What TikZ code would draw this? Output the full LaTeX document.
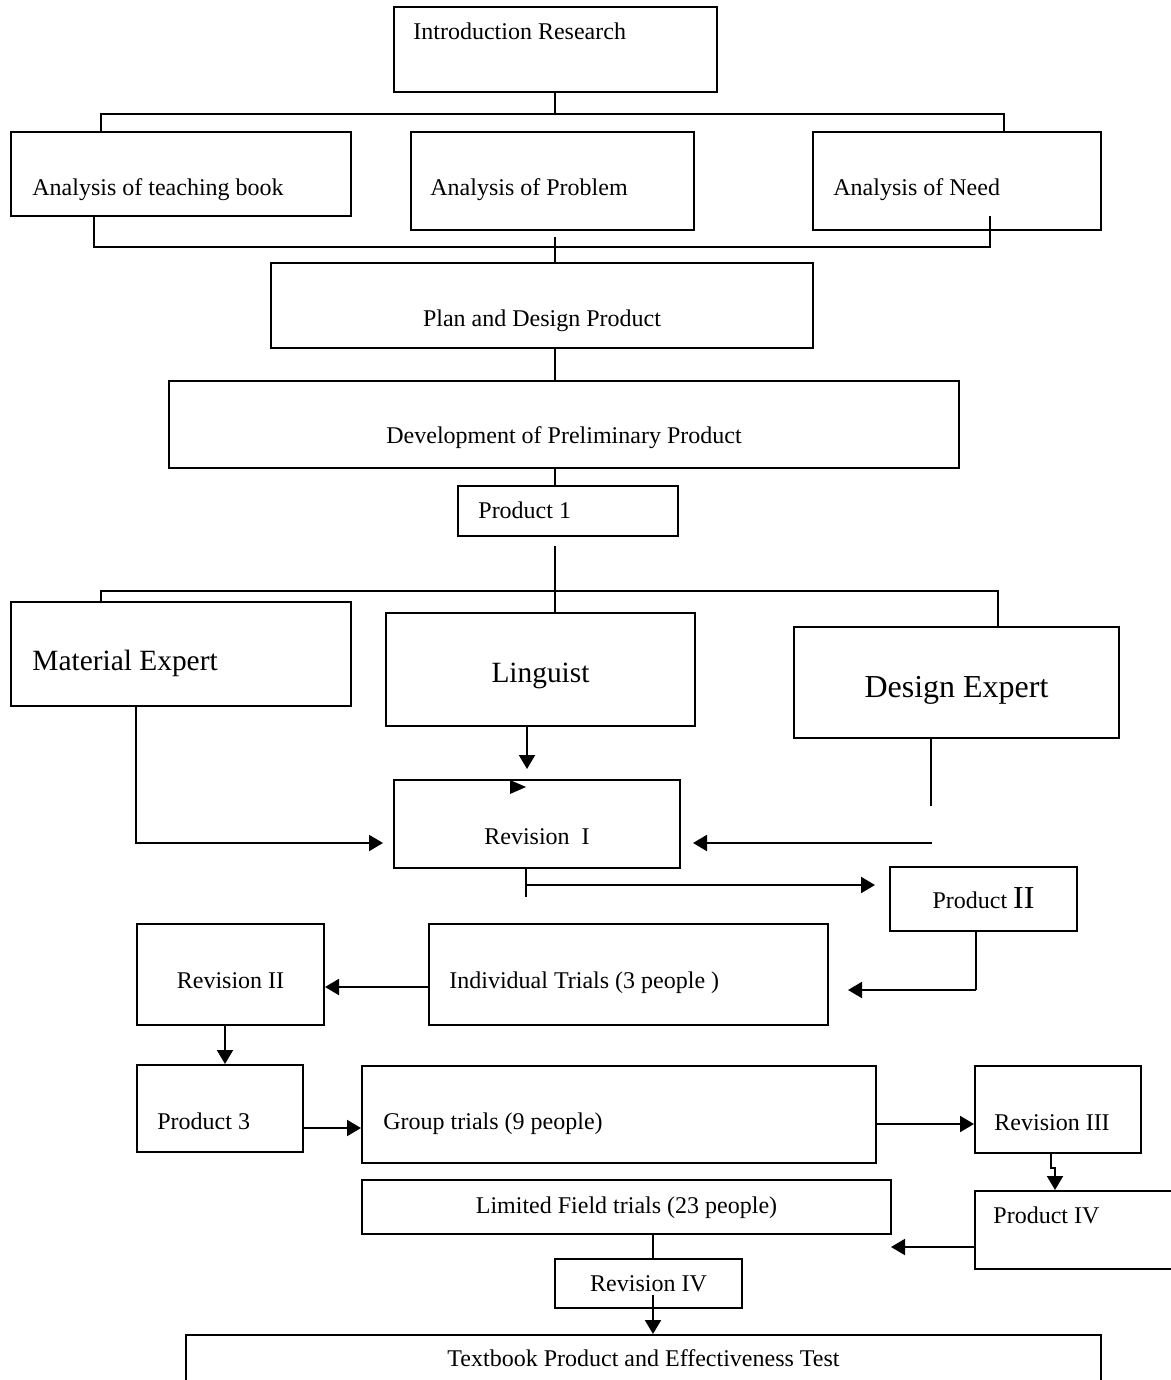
\documentclass[tikz,border=0pt]{standalone}
\usepackage{fontspec}
\setmainfont{Liberation Serif}
\usetikzlibrary{arrows.meta, positioning}

\begin{document}
\begin{tikzpicture}[x=0.5pt, y=-0.5pt,
		box/.style={draw, rectangle, line width=1pt, anchor=north west, inner sep=0pt},
		lbl/.style={inner sep=0pt, font=\fontsize{12}{14}\selectfont},
		biglbl/.style={inner sep=0pt, font=\fontsize{14.7}{17}\selectfont},
		bus/.style={line width=0.65pt},
		arr/.style={line width=1pt, -{Triangle[length=7pt, width=8pt]}}]
		\useasboundingbox (0,0) rectangle (1171,1380);
		\node[box, minimum width=161.5pt, minimum height=42.5pt, label={[lbl, anchor=base west, xshift=10pt, yshift=-17pt] north west:Introduction Research}] (intro) at (393,6) {};
		\node[box, minimum width=170pt, minimum height=42pt, label={[lbl, anchor=base west, xshift=11pt, yshift=-32.5pt] north west:Analysis of teaching book}] (teach) at (10,131) {};
		\node[box, minimum width=141.5pt, minimum height=49pt, label={[lbl, anchor=base west, xshift=10pt, yshift=-32.5pt] north west:Analysis of Problem}] (problem) at (410,131) {};
		\node[box, minimum width=144pt, minimum height=49pt, label={[lbl, anchor=base west, xshift=10.5pt, yshift=-32.5pt] north west:Analysis of Need}] (need) at (812,131) {};
		\node[box, minimum width=271pt, minimum height=42.5pt, label={[lbl, anchor=base, yshift=-32pt] north:Plan and Design Product}] (plan) at (270,262) {};
		\node[box, minimum width=395pt, minimum height=43.5pt, label={[lbl, anchor=base, yshift=-31.5pt] north:Development of Preliminary Product}] (devel) at (168,380) {};
		\node[box, minimum width=110pt, minimum height=25pt, label={[lbl, anchor=base west, xshift=10.5pt, yshift=-16.5pt] north west:Product 1}] (prod1) at (457,485) {};
		\node[box, minimum width=170pt, minimum height=52pt, label={[biglbl, anchor=base west, xshift=11pt, yshift=-34.5pt] north west:Material Expert}] (material) at (10,601) {};
		\node[box, minimum width=154.5pt, minimum height=56.5pt, label={[biglbl, anchor=base, yshift=-35pt] north:Linguist}] (linguist) at (385,612) {};
		\node[box, minimum width=162.5pt, minimum height=55.5pt, label={[lbl, font=\fontsize{16}{19}\selectfont, anchor=base, yshift=-35.5pt] north:Design Expert}] (design) at (793,626) {};
		\node[box, minimum width=143pt, minimum height=44pt, label={[lbl, anchor=base, yshift=-32.5pt] north:Revision\ \ I}] (rev1) at (393,779) {};
		\node[box, minimum width=93.5pt, minimum height=32pt, label={[lbl, anchor=base, yshift=-21pt] north:Product {\fontsize{16}{19}\selectfont II}}] (prod2) at (889,866) {};
		\node[box, minimum width=199.5pt, minimum height=50.5pt, label={[lbl, anchor=base west, xshift=10.5pt, yshift=-32.5pt] north west:Individual Trials (3 people )}] (indiv) at (428,923) {};
		\node[box, minimum width=93.5pt, minimum height=50.5pt, label={[lbl, anchor=base, yshift=-32.5pt] north:Revision II}] (rev2) at (136,923) {};
		\node[box, minimum width=83pt, minimum height=43.5pt, label={[lbl, anchor=base west, xshift=10.5pt, yshift=-32.5pt] north west:Product 3}] (prod3) at (136,1064) {};
		\node[box, minimum width=257pt, minimum height=48.5pt, label={[lbl, anchor=base west, xshift=11pt, yshift=-32pt] north west:Group trials (9 people)}] (group) at (361,1065) {};
		\node[box, minimum width=83pt, minimum height=43.5pt, label={[lbl, anchor=base west, xshift=10pt, yshift=-32.5pt] north west:Revision III}] (rev3) at (974,1065) {};
		\node[box, minimum width=98.5pt, minimum height=39pt, label={[lbl, anchor=base west, xshift=9.5pt, yshift=-16.5pt] north west:Product IV}] (prod4) at (974,1190) {};
		\node[box, minimum width=264.5pt, minimum height=27pt, label={[lbl, anchor=base, yshift=-17pt] north:Limited Field trials (23 people)}] (limited) at (361,1179) {};
		\node[box, minimum width=93.5pt, minimum height=24.5pt, label={[lbl, anchor=base, yshift=-16.5pt] north:Revision IV}] (rev4) at (554,1258) {};
		\node[box, minimum width=457.5pt, minimum height=35pt, label={[lbl, anchor=base, yshift=-16pt] north:Textbook Product and Effectiveness Test}] (textbook) at (185,1334) {};
		\coordinate (spine) at (555,0);
		\coordinate (busAl) at (101,114);
		\coordinate (busAr) at (1004,114);
		\coordinate (busBl) at (94,247);
		\coordinate (busBr) at (990,247);
		\coordinate (needIn) at (990,216);
		\coordinate (probGap) at (555,237);
		\coordinate (prodGap) at (555,546);
		\coordinate (busCl) at (101,591);
		\coordinate (busCr) at (998,591);
		\draw[bus] (intro.south -| spine) -- (busAl -| spine);
		\draw[bus] (teach.north -| busAl) |- (busAr) -- (need.north -| busAr);
		\draw[bus] (teach.south -| busBl) |- (busBr) -- (needIn);
		\draw[bus] (probGap) -- (plan.north -| spine);
		\draw[bus] (plan.south -| spine) -- (devel.north -| spine);
		\draw[bus] (devel.south -| spine) -- (prod1.north -| spine);
		\draw[bus] (prodGap) -- (linguist.north -| spine);
		\draw[bus] (material.north -| busCl) |- (busCr) -- (design.north -| busCr);
		\coordinate (lingTip) at (527,769);
		\coordinate (matTurn) at (136,843);
		\coordinate (matTip) at (383,843);
		\coordinate (dsnEnd) at (931,806);
		\coordinate (dsnArr) at (932,843);
		\coordinate (revTip) at (693,843);
		\draw[arr] (linguist.south -| lingTip) -- (lingTip);
		\fill (510,780) -- (526,787) -- (510,794) -- cycle;
		\draw[arr] (material.south -| matTurn) |- (matTip);
		\draw[bus] (design.south -| dsnEnd) -- (dsnEnd);
		\draw[arr] (dsnArr) -- (revTip);
		\coordinate (revTail) at (526,897);
		\coordinate (revTurn) at (526,885);
		\coordinate (prodTip) at (875,885);
		\draw[bus] (rev1.south -| revTail) -- (revTail);
		\draw[arr] (revTurn) -- (prodTip);
		\coordinate (p2Turn) at (976,990);
		\coordinate (indTip) at (848,990);
		\draw[bus] (prod2.south -| p2Turn) -- (p2Turn);
		\draw[arr] (p2Turn) -- (indTip);
		\coordinate (row2) at (0,987);
		\coordinate (col2) at (225,0);
		\coordinate (row3) at (0,1128);
		\coordinate (row4) at (0,1124);
		\draw[arr] (indiv.west |- row2) -- (rev2.east |- row2);
		\draw[arr] (rev2.south -| col2) -- (prod3.north -| col2);
		\draw[arr] (prod3.east |- row3) -- (group.west |- row3);
		\draw[arr] (group.east |- row4) -- (rev3.west |- row4);
		\coordinate (jogA) at (1051,1168);
		\coordinate (jogB) at (1055,1168);
		\draw[arr] (rev3.south -| jogA) -- (jogA) -- (jogB) -- (prod4.north -| jogB);
		\coordinate (limTip) at (891,1247);
		\draw[arr] (prod4.west |- limTip) -- (limTip);
		\coordinate (col4) at (653,0);
		\coordinate (rev4In) at (653,1295);
		\draw[bus] (limited.south -| col4) -- (rev4.north -| col4);
		\draw[arr] (rev4In) -- (textbook.north -| col4);
	\end{tikzpicture}
\end{document}
